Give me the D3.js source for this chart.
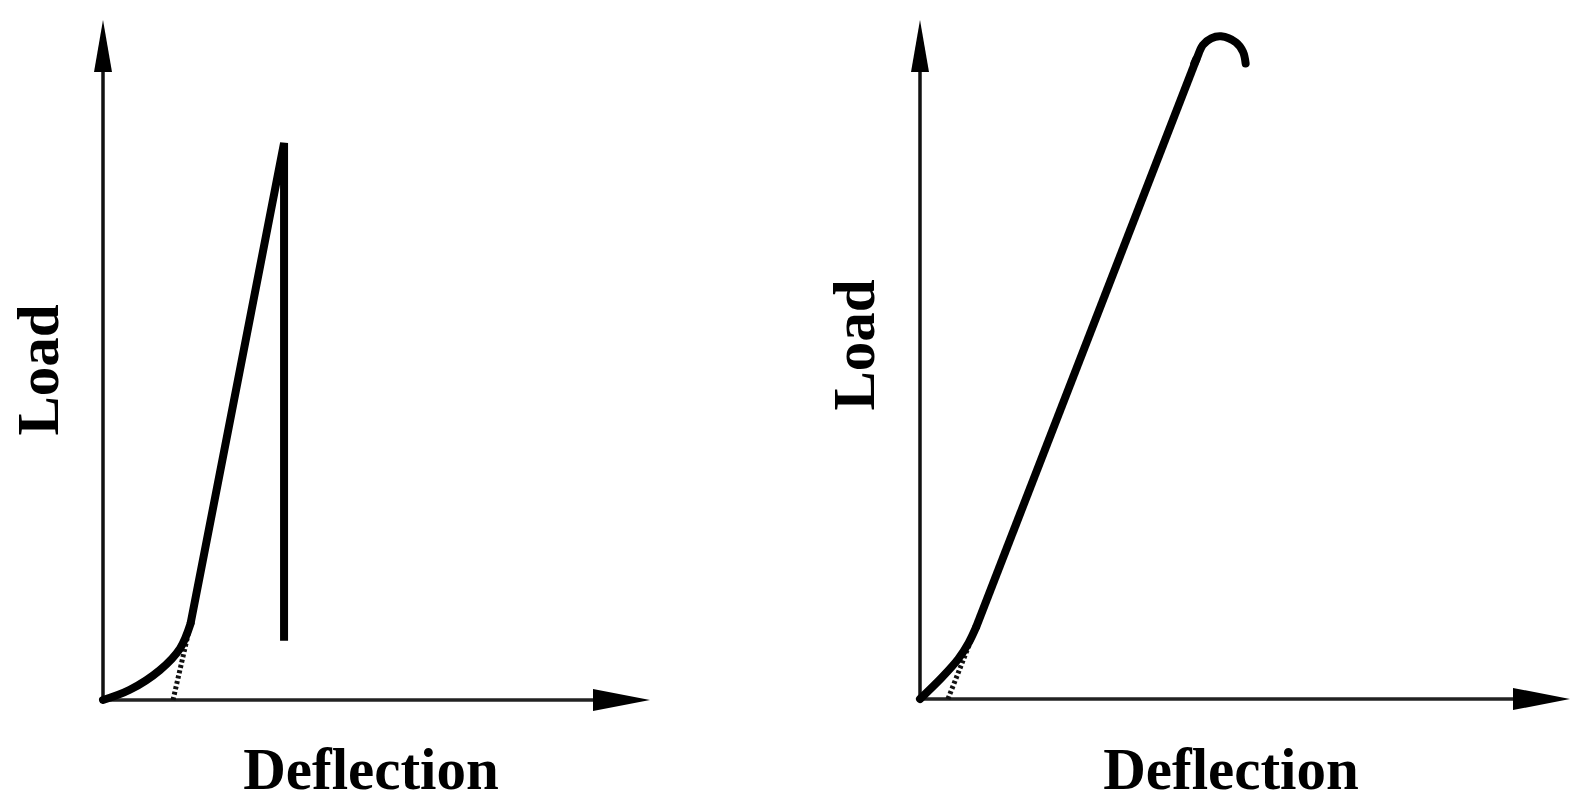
<!DOCTYPE html>
<html>
<head>
<meta charset="utf-8">
<script src="https://cdn.jsdelivr.net/npm/d3@7"></script>
<style>
  html, body { margin: 0; padding: 0; background: #fff; }
  text { font-family: "Liberation Serif", "Times New Roman", serif; font-weight: bold; }
</style>
</head>
<body>
<div id="chart"></div>
<script>
// load (y) vs deflection (x), both in arbitrary units 0..100 (100 = arrow tip)
var leftToe = [[0, 0], [4.9, 1.5], [10.4, 4.4], [14.1, 7.6], [16.0, 11.2]];
var leftRise = [[16.0, 11.2], [33.1, 81.9], [33.1, 8.7]];
var leftTangent = [[12.8, 0], [16.0, 11.2]];

var rightToe = [[0, 0], [3.4, 3.2], [5.9, 5.9], [7.5, 8.3], [8.6, 10.5]];
var rightRise = [[8.6, 10.5], [42.6, 94.4]];
var rightCap = [[42.2, 93.6], [42.6, 94.4], [43.5, 96.3], [44.8, 97.3], [46.3, 97.6], [48.6, 96.7], [49.7, 95.3], [50.1, 93.6]];
var rightTangent = [[4.3, 0], [8.6, 10.5]];

var xLabel = "Deflection";
var yLabel = "Load";

var width = 1590, height = 804;

var svg = d3.select("#chart").append("svg")
  .attr("width", width)
  .attr("height", height);

function drawPanel(opt) {
  var x = d3.scaleLinear().domain([0, 100]).range([opt.x0, opt.x1]);
  var y = d3.scaleLinear().domain([0, 100]).range([opt.y0, opt.y1]);
  var g = svg.append("g");

  var straight = d3.line().x(function(d) { return x(d[0]); }).y(function(d) { return y(d[1]); });
  var smooth = d3.line().curve(d3.curveCatmullRom.alpha(0.5))
    .x(function(d) { return x(d[0]); }).y(function(d) { return y(d[1]); });

  // axes
  g.append("line")
    .attr("x1", x(0)).attr("y1", y(0)).attr("x2", x(0)).attr("y2", y(100) + 20)
    .attr("stroke", "#111").attr("stroke-width", 3.5);
  g.append("line")
    .attr("x1", x(0)).attr("y1", y(0)).attr("x2", x(100) - 20).attr("y2", y(0))
    .attr("stroke", "#222").attr("stroke-width", 3.5);

  // arrow heads
  var ty = y(100), tx = x(100);
  g.append("path")
    .attr("d", "M" + x(0) + "," + ty + " L" + (x(0) - 9) + "," + (ty + 52) + " L" + (x(0) + 9) + "," + (ty + 52) + "Z")
    .attr("fill", "#000");
  g.append("path")
    .attr("d", "M" + tx + "," + y(0) + " L" + (tx - 57) + "," + (y(0) - 11) + " L" + (tx - 57) + "," + (y(0) + 11) + "Z")
    .attr("fill", "#000");

  // dotted tangent
  g.append("path")
    .attr("d", straight(opt.tangent))
    .attr("fill", "none").attr("stroke", "#111")
    .attr("stroke-width", 5).attr("stroke-dasharray", "3,2.5");

  opt.smooth.forEach(function(s) {
    g.append("path").attr("d", smooth(s))
      .attr("fill", "none").attr("stroke", "#000")
      .attr("stroke-width", 8).attr("stroke-linecap", "round");
  });
  opt.straight.forEach(function(s) {
    g.append("path").attr("d", straight(s))
      .attr("fill", "none").attr("stroke", "#000")
      .attr("stroke-width", 8).attr("stroke-linejoin", "miter").attr("stroke-linecap", "butt");
  });

  // labels
  g.append("text")
    .attr("x", opt.xlx).attr("y", 789)
    .attr("text-anchor", "middle")
    .attr("font-size", 59)
    .text(xLabel);
  g.append("text")
    .attr("transform", "translate(" + opt.ylx + "," + opt.yly + ") rotate(-90)")
    .attr("text-anchor", "middle")
    .attr("font-size", 59)
    .text(yLabel);
}

drawPanel({
  x0: 103, x1: 650, y0: 700, y1: 20,
  smooth: [leftToe], straight: [leftRise], tangent: leftTangent,
  xlx: 371, ylx: 58, yly: 370
});

drawPanel({
  x0: 920, x1: 1570, y0: 699, y1: 20,
  smooth: [rightToe, rightCap], straight: [rightRise], tangent: rightTangent,
  xlx: 1231, ylx: 874, yly: 345
});
</script>
</body>
</html>
